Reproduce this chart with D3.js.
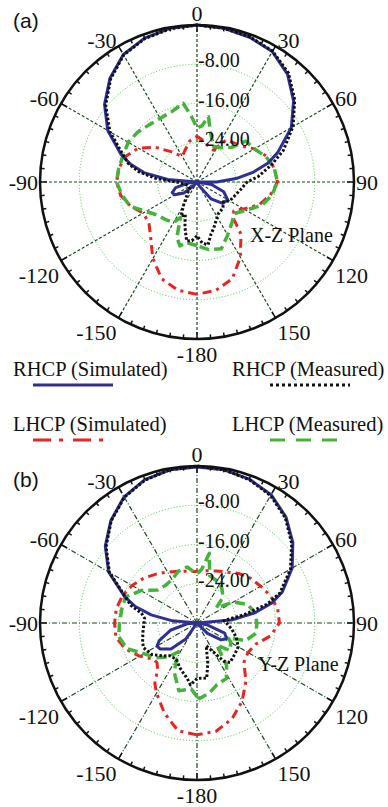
<!DOCTYPE html>
<html>
<head>
<meta charset="utf-8">
<script src="https://cdn.jsdelivr.net/npm/d3@7/dist/d3.min.js"></script>
<style>
  body { margin: 0; background: #fff; }
  svg { display: block; }
</style>
</head>
<body>
<svg id="chart" width="388" height="807"></svg>
<script>
// ring / angle ticks
const ringTicks = [-8, -16, -24];
const ringLabels = ['-8.00', '-16.00', '-24.00'];
const angleTicks = [0, 30, 60, 90, 120, 150, 180, -150, -120, -90, -60, -30];
const angleLabels = ['0', '30', '60', '90', '120', '150', '-180', '-150', '-120', '-90', '-60', '-30'];

// (a) X-Z plane
const aRhcpSimAng = [-180,-160,-150,-140,-130,-120,-113,-105,-95,-90,-85,-80,-75,-70,-60,-50,-40,-30,-20,-10,0,10,20,30,40,50,60,70,75,80,85,90,95,100,110,120,130,140,150,160,180];
const aRhcpSimDb  = [-32,-32,-32,-31,-28.5,-26.8,-26.5,-27.5,-30.5,-32,-26,-21,-18,-15.5,-11,-7.4,-4.4,-2.0,-0.8,-0.2,0,-0.2,-0.6,-1.3,-3.3,-6.3,-9.8,-14.5,-17,-20.3,-24,-28,-32,-29,-26.2,-24.8,-25.2,-27.5,-31,-32,-32];
const aRhcpMeasAng = [-180,-175,-170,-165,-160,-155,-150,-140,-130,-120,-110,-100,-90,-85,-80,-75,-70,-60,-50,-40,-30,-20,-10,0,10,20,30,40,50,60,70,77,85,90,100,110,120,127,135,145,152,160,165,170,175,180];
const aRhcpMeasDb  = [-21,-20,-19.8,-22.5,-25,-24.3,-26.5,-29,-30,-30,-30,-29.5,-27.8,-23.5,-20,-17.5,-16,-11.5,-7.7,-4.6,-2.1,-0.9,-0.3,0,-0.2,-0.5,-1.2,-3.0,-6.0,-9.4,-13.3,-16.4,-19.5,-21.8,-23,-23.8,-24.3,-25.3,-24.5,-24.3,-23.5,-22,-21,-19,-19.5,-21];
const aLhcpSimAng = [-180,-170,-160,-150,-140,-130,-120,-110,-100,-90,-80,-70,-60,-50,-40,-30,-20,-10,0,10,20,27,35,50,60,70,80,90,100,110,120,128,135,140,145,150,160,170,180];
const aLhcpSimDb  = [-9.1,-9.6,-11,-14,-17.3,-19.2,-19.3,-17.6,-16.2,-15.6,-15.8,-16.6,-18.2,-21,-24,-26,-25,-23.5,-22.7,-23.5,-24.5,-24.7,-21.5,-20.5,-18.5,-16.8,-16,-15.6,-16.8,-18.5,-21,-22.5,-21.5,-18,-16.5,-14.3,-11,-9.6,-9.1];
const aLhcpMeasAng = [-180,-170,-165,-160,-155,-150,-140,-130,-120,-110,-100,-90,-80,-70,-60,-50,-40,-30,-20,-10,-5,0,5,10,15,25,35,45,50,60,70,80,90,100,110,120,130,140,150,160,170,180];
const aLhcpMeasDb  = [-19,-19.5,-18.5,-20,-24,-22.5,-22,-21.5,-20,-17.5,-16.5,-15.6,-15.8,-16,-15.8,-16.2,-16.8,-17,-16.8,-15.7,-18.5,-21,-20.5,-18.5,-21.5,-24,-23.5,-22,-19,-18.5,-17,-16,-15.6,-16.5,-18,-20.5,-22,-21,-19.5,-17.5,-18,-19];

// (b) Y-Z plane
const bRhcpSimAng = [-180,-160,-150,-145,-135,-125,-120,-115,-105,-95,-90,-85,-80,-75,-70,-60,-50,-40,-30,-20,-10,0,10,20,30,40,50,60,70,75,80,85,90,100,110,118,125,135,140,160,180];
const bRhcpSimDb  = [-32,-32,-32,-28,-24.5,-22.8,-22.6,-23.5,-26.5,-30,-32,-27,-22.5,-19,-16.3,-11.2,-7.6,-4.7,-2.3,-0.9,-0.3,-0.2,-0.3,-0.8,-1.8,-3.8,-6.5,-9.6,-13.5,-16.2,-20,-25,-32,-30,-26,-25.2,-26,-29,-32,-32,-32];
const bRhcpMeasAng = [-180,-174,-170,-160,-150,-140,-135,-125,-115,-110,-100,-90,-85,-80,-75,-70,-60,-50,-40,-30,-20,-10,0,10,20,30,40,50,60,70,75,80,85,90,100,110,120,130,140,145,150,158,165,170,180];
const bRhcpMeasDb  = [-20.7,-19.3,-20.5,-22.1,-23.5,-23.3,-22.5,-20.8,-20,-20.2,-20.8,-21.2,-21.3,-20.5,-18,-16.5,-11.4,-7.8,-4.8,-2.4,-1.0,-0.3,0,-0.3,-0.9,-2.0,-4.0,-6.8,-10,-14,-17.2,-22.2,-26.5,-26,-24.8,-23.5,-22.3,-22,-21.5,-22.5,-25,-27,-23.5,-20.6,-20.7];
const bLhcpSimAng = [-180,-170,-160,-150,-145,-140,-135,-130,-120,-110,-100,-90,-80,-70,-60,-50,-40,-30,-20,-10,0,10,20,30,40,50,60,70,80,90,100,110,120,130,140,150,160,170,180];
const bLhcpSimDb  = [-9.2,-9.7,-12.5,-15.5,-17,-19.5,-20.5,-20.5,-18.5,-16.5,-15.2,-15.2,-15.3,-15.8,-16.7,-17.8,-19,-20,-20.8,-21.3,-21.5,-21.2,-20.7,-20,-18.8,-17.8,-17,-16,-15.3,-15.2,-16.8,-19.3,-20,-19.5,-16.5,-13.6,-11.2,-9.6,-9.2];
const bLhcpMeasAng = [-180,-175,-165,-155,-147,-140,-130,-120,-110,-100,-90,-80,-70,-60,-50,-40,-30,-20,-10,0,5,10,15,25,35,45,52,60,70,80,90,100,110,115,120,130,138,145,152,162,170,178,180];
const bLhcpMeasDb  = [-17,-18.5,-17.7,-21,-25,-23,-21,-19.5,-16.8,-15.8,-16.2,-16.4,-16.5,-18.8,-21.5,-22,-21.8,-20.8,-20.4,-22,-21,-17.6,-22,-22.5,-23.2,-24.5,-27,-23.4,-21,-20,-19.8,-19.8,-21.5,-25,-24,-23.3,-26,-21.5,-19.2,-18.8,-17.5,-16.6,-17];

const R = 157;
const SERIF = '"Liberation Serif", "Times New Roman", Times, "DejaVu Serif", serif';
const rScale = d3.scaleLinear().domain([-32, 0]).range([0, R]).clamp(true);
const rad = d => d * Math.PI / 180;

const styles = {
  rhcpSim:  { stroke: '#2e3192', width: 3, dash: null },
  rhcpMeas: { stroke: '#111111', width: 3, dash: '2.5,2' },
  lhcpSim:  { stroke: '#e52521', width: 3, dash: '9,5,3,5' },
  lhcpMeas: { stroke: '#45b239', width: 3.5, dash: '10,5' }
};

const svg = d3.select('#chart');
svg.append('rect').attr('width', 388).attr('height', 807).attr('fill', '#fff');

function drawPanel(cx, cy, series, planeLabel, planePos, letter, letterY, spokeDash) {
  const g = svg.append('g').attr('transform', `translate(${cx},${cy})`);

  // rings
  g.selectAll('.ring').data(ringTicks).enter().append('circle')
    .attr('r', d => rScale(d))
    .attr('fill', 'none')
    .attr('stroke', '#44c944')
    .attr('stroke-width', 1)
    .attr('stroke-dasharray', '1,2');

  // spokes every 30 deg
  const spokes = d3.range(0, 360, 30);
  g.selectAll('.spoke').data(spokes).enter().append('line')
    .attr('x1', 0).attr('y1', 0)
    .attr('x2', d => R * Math.sin(rad(d)))
    .attr('y2', d => -R * Math.cos(rad(d)))
    .attr('stroke', '#1a4a1d')
    .attr('stroke-width', 1.2)
    .attr('stroke-dasharray', spokeDash);

  // curves
  const line = d3.lineRadial()
    .angle(d => rad(d[0]))
    .radius(d => rScale(d[1]));
  series.forEach(s => {
    const pts = s.ang.map((a, i) => [a, s.db[i]]);
    g.append('path')
      .attr('d', line(pts))
      .attr('fill', 'none')
      .attr('stroke', s.style.stroke)
      .attr('stroke-width', s.style.width)
      .attr('stroke-dasharray', s.style.dash)
      .attr('stroke-linejoin', 'round');
  });

  // outer circle + ticks
  g.append('circle').attr('r', R).attr('fill', 'none')
    .attr('stroke', '#111').attr('stroke-width', 2.5);
  const ticks = d3.range(0, 360, 5);
  g.selectAll('.tick').data(ticks).enter().append('line')
    .attr('x1', d => R * Math.sin(rad(d)))
    .attr('y1', d => -R * Math.cos(rad(d)))
    .attr('x2', d => (R - (d % 30 === 0 ? 7 : 4)) * Math.sin(rad(d)))
    .attr('y2', d => -(R - (d % 30 === 0 ? 7 : 4)) * Math.cos(rad(d)))
    .attr('stroke', '#111').attr('stroke-width', 1.5);

  // ring labels
  g.selectAll('.rl').data(ringTicks).enter().append('text')
    .attr('x', 1)
    .attr('y', d => -rScale(d) + 3)
    .attr('font-family', SERIF)
    .attr('font-size', '20px')
    .attr('fill', '#111')
    .text((d, i) => ringLabels[i]);

  // angle labels
  g.selectAll('.al').data(angleTicks).enter().append('text')
    .attr('font-family', SERIF)
    .attr('font-size', '22px')
    .attr('fill', '#111')
    .attr('text-anchor', d => {
      const s = Math.sin(rad(d));
      return Math.abs(s) < 0.01 ? 'middle' : (s < 0 ? 'end' : 'start');
    })
    .attr('x', d => {
      const s = Math.sin(rad(d));
      const px = R * s;
      return Math.abs(s) < 0.01 ? 0 : px + (s < 0 ? -2 : 2);
    })
    .attr('y', d => {
      const c = Math.cos(rad(d));
      const py = -R * c;
      if (c > 0.99) return py - 4;
      if (c < -0.99) return py + 23;
      if (c > 0.1) return py + 2;
      if (c < -0.1) return py + 22;
      return py + 8;
    })
    .text((d, i) => angleLabels[i]);

  svg.append('text')
    .attr('x', planePos[0]).attr('y', planePos[1])
    .attr('font-family', SERIF)
    .attr('font-size', '20px')
    .attr('fill', '#111')
    .text(planeLabel);

  svg.append('text')
    .attr('x', 13).attr('y', letterY)
    .attr('font-size', '21px')
    .attr('fill', '#111')
    .attr('font-family', '"Liberation Sans", Arial, sans-serif')
    .text(letter);
}

drawPanel(197, 182, [
  { ang: aLhcpSimAng, db: aLhcpSimDb, style: styles.lhcpSim },
  { ang: aLhcpMeasAng, db: aLhcpMeasDb, style: styles.lhcpMeas },
  { ang: aRhcpSimAng, db: aRhcpSimDb, style: styles.rhcpSim },
  { ang: aRhcpMeasAng, db: aRhcpMeasDb, style: styles.rhcpMeas }
], 'X-Z Plane', [250, 242], '(a)', 28, '3,2');

drawPanel(197, 623, [
  { ang: bLhcpSimAng, db: bLhcpSimDb, style: styles.lhcpSim },
  { ang: bLhcpMeasAng, db: bLhcpMeasDb, style: styles.lhcpMeas },
  { ang: bRhcpSimAng, db: bRhcpSimDb, style: styles.rhcpSim },
  { ang: bRhcpMeasAng, db: bRhcpMeasDb, style: styles.rhcpMeas }
], 'Y-Z Plane', [258, 671], '(b)', 487, '5,2,1,2');

// legend
const legendNames = ['RHCP (Simulated)', 'RHCP (Measured)', 'LHCP (Simulated)', 'LHCP (Measured)'];
const legendStyles = [
  { stroke: '#2e3192', dash: null, x1: 33, x2: 113 },
  { stroke: '#111111', dash: '3,3', x1: 270, x2: 350 },
  { stroke: '#e52521', dash: '18,8,4,10', x1: 33, x2: 108 },
  { stroke: '#45b239', dash: '15,11', x1: 270, x2: 342 }
];
const legend = svg.append('g');
legendNames.forEach((name, i) => {
  const col = i % 2, row = Math.floor(i / 2);
  const tx = col === 0 ? 13 : 232;
  const ty = row === 0 ? 376 : 431;
  legend.append('text').attr('x', tx).attr('y', ty)
    .attr('font-family', SERIF)
    .attr('font-size', '20.5px')
    .attr('fill', '#111')
    .text(name);
  const st = legendStyles[i];
  legend.append('line')
    .attr('x1', st.x1).attr('x2', st.x2)
    .attr('y1', ty + 9).attr('y2', ty + 9)
    .attr('stroke', st.stroke).attr('stroke-width', 3)
    .attr('stroke-dasharray', st.dash);
});
</script>
</body>
</html>
